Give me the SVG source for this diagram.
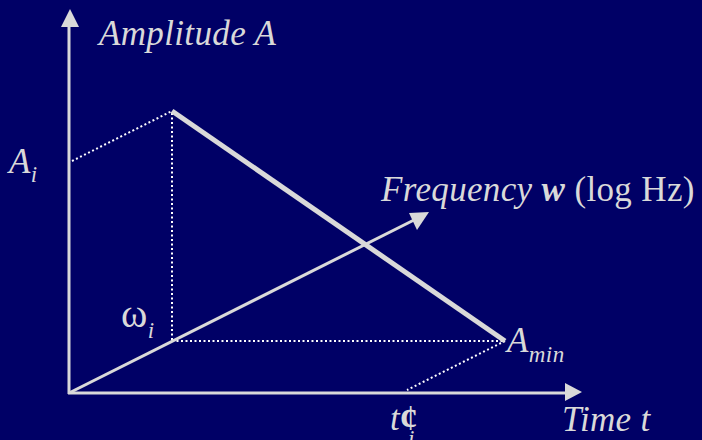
<svg xmlns="http://www.w3.org/2000/svg" width="702" height="440" viewBox="0 0 702 440">
<style>
.t{font-family:"Liberation Serif","Times New Roman",serif;fill:#d9d9d9;font-size:35px;letter-spacing:0.35px}
.it{font-style:italic}
.sub{font-size:23px;font-style:italic;letter-spacing:0.5px}
.ax{stroke:#d9d9d9;stroke-width:3;fill:none}
.dot{stroke:#ffffff;stroke-width:2;stroke-dasharray:2 2.5;fill:none}
.ah{fill:#d9d9d9}
</style>
<rect width="702" height="440" fill="#000066"/>
<g id="connectors">
<line class="dot" x1="72" y1="161" x2="172" y2="111"/>
<line class="dot" x1="172" y1="113" x2="172" y2="341"/>
<line class="dot" x1="172" y1="341" x2="505" y2="341"/>
<line class="dot" x1="505" y1="341" x2="407" y2="390"/>
<line class="ax" x1="69" y1="394" x2="69" y2="24"/>
<polygon class="ah" points="70,9 61,27 79,27"/>
<line class="ax" x1="68" y1="393" x2="567" y2="393"/>
<polygon class="ah" points="582,392 565,383 565,401"/>
<line class="ax" x1="69" y1="393" x2="416" y2="219"/>
<polygon class="ah" points="429,212 409,213 417,230"/>
<line stroke="#d9d9d9" stroke-width="5" x1="172" y1="111" x2="505" y2="341"/>
</g>
<g id="amplitude-label"><text class="t it" x="99" y="45">Amplitude A</text></g>
<g id="frequency-label"><text class="t" x="381" y="201"><tspan font-style="italic">Frequency </tspan><tspan font-style="italic" font-weight="bold">w</tspan><tspan> (log Hz)</tspan></text></g>
<g id="ai-label"><text class="t it" x="9" y="173">A<tspan class="sub" dy="9">i</tspan></text></g>
<g id="wi-label"><text class="t" x="121" y="327" style="font-size:40px">ω<tspan class="sub" dy="11">i</tspan></text></g>
<g id="amin-label"><text class="t it" x="507" y="352">A<tspan class="sub" dy="10">min</tspan></text></g>
<g id="tprime-label"><text class="t" x="390" y="430"><tspan font-style="italic">t</tspan><tspan font-weight="bold">¢</tspan></text><text class="t sub" x="408" y="446">i</text></g>
<g id="time-label"><text class="t it" x="562" y="431">Time t</text></g>
</svg>
